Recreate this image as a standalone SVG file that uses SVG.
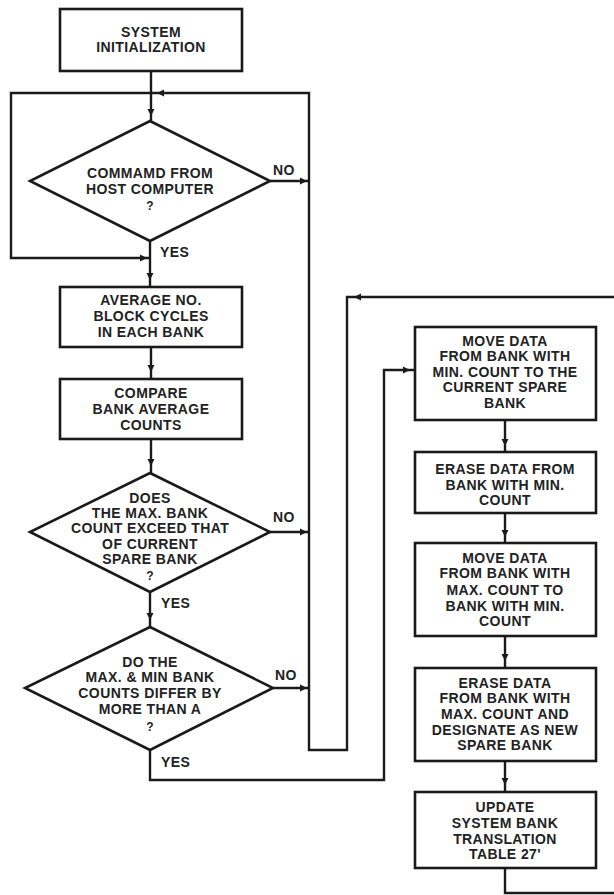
<svg xmlns="http://www.w3.org/2000/svg" xmlns:xlink="http://www.w3.org/1999/xlink" width="614" height="895" viewBox="0 0 614 895">
<style>
.box{fill:#fff;stroke:#1a1a1a;stroke-width:2.6}
.ln{fill:none;stroke:#1a1a1a;stroke-width:2.4}
text{font-family:"Liberation Sans",Arial,sans-serif;font-size:14px;font-weight:bold;fill:#222;text-anchor:middle;letter-spacing:0.4px}
text.lbl{text-anchor:start}
text.q{font-size:12px}
</style>
<defs>
<polygon id="arr" points="0,0 -7,-3.5 -7,3.5" fill="#1a1a1a"/>
</defs>
<rect width="614" height="895" fill="#fff"/>
<g id="connectors">
<path class="ln" d="M151 71 V121"/>
<use href="#arr" transform="translate(151,116) rotate(90)"/>
<path class="ln" d="M614 297 H347 V750 H309 V93 H11 V258 H150"/>
<use href="#arr" transform="translate(354,297) rotate(180)"/>
<use href="#arr" transform="translate(157,93) rotate(180)"/>
<use href="#arr" transform="translate(147,258)"/>
<path class="ln" d="M270 181 H309"/>
<use href="#arr" transform="translate(307,181)"/>
<path class="ln" d="M150 241 V287"/>
<use href="#arr" transform="translate(150,280) rotate(90)"/>
<path class="ln" d="M151 347 V379"/>
<use href="#arr" transform="translate(151,372) rotate(90)"/>
<path class="ln" d="M151 439 V473"/>
<use href="#arr" transform="translate(151,466) rotate(90)"/>
<path class="ln" d="M270 532 H309"/>
<use href="#arr" transform="translate(307,532)"/>
<path class="ln" d="M150 592 V627"/>
<use href="#arr" transform="translate(150,620) rotate(90)"/>
<path class="ln" d="M273 688 H309"/>
<use href="#arr" transform="translate(307,688)"/>
<path class="ln" d="M150 750 V780 H384 V370 H415"/>
<use href="#arr" transform="translate(410,370)"/>
<path class="ln" d="M505 420 V452"/>
<use href="#arr" transform="translate(505,446) rotate(90)"/>
<path class="ln" d="M505 513 V543"/>
<use href="#arr" transform="translate(505,537) rotate(90)"/>
<path class="ln" d="M505 636 V668"/>
<use href="#arr" transform="translate(505,661) rotate(90)"/>
<path class="ln" d="M505 761 V792"/>
<use href="#arr" transform="translate(505,785) rotate(90)"/>
<path class="ln" d="M505 868 V893 H614"/>
</g>
<g id="init">
<rect class="box" x="60" y="9" width="182" height="62"/>
<text x="151" y="37">SYSTEM</text>
<text x="151" y="52">INITIALIZATION</text>
</g>
<g id="d1">
<polygon class="box" points="150,121 270,181 150,241 30,181"/>
<text x="150" y="178">COMMAMD FROM</text>
<text x="150" y="194">HOST COMPUTER</text>
<text class="q" x="150" y="210">?</text>
<text class="lbl" x="273" y="175">NO</text>
<text class="lbl" x="160" y="257">YES</text>
</g>
<g id="avg">
<rect class="box" x="60" y="287" width="182" height="60"/>
<text x="151" y="305">AVERAGE NO.</text>
<text x="151" y="321">BLOCK CYCLES</text>
<text x="151" y="337">IN EACH BANK</text>
</g>
<g id="compare">
<rect class="box" x="60" y="379" width="182" height="60"/>
<text x="151" y="398">COMPARE</text>
<text x="151" y="414">BANK AVERAGE</text>
<text x="151" y="430">COUNTS</text>
</g>
<g id="d2">
<polygon class="box" points="150,473 270,532 150,592 30,532"/>
<text x="150" y="503">DOES</text>
<text x="150" y="518">THE MAX. BANK</text>
<text x="150" y="533">COUNT EXCEED THAT</text>
<text x="150" y="549">OF CURRENT</text>
<text x="150" y="564">SPARE BANK</text>
<text class="q" x="150" y="580">?</text>
<text class="lbl" x="273" y="522">NO</text>
<text class="lbl" x="161" y="608">YES</text>
</g>
<g id="d3">
<polygon class="box" points="150,627 273,688 150,750 25,688"/>
<text x="150" y="667">DO THE</text>
<text x="150" y="682">MAX. &amp; MIN BANK</text>
<text x="150" y="698">COUNTS  DIFFER BY</text>
<text x="150" y="714">MORE THAN  A</text>
<text class="q" x="150" y="731">?</text>
<text class="lbl" x="275" y="680">NO</text>
<text class="lbl" x="161" y="767">YES</text>
</g>
<g id="moveMin">
<rect class="box" x="415" y="327" width="181" height="93"/>
<text x="505" y="346">MOVE DATA</text>
<text x="505" y="361">FROM BANK WITH</text>
<text x="505" y="377">MIN. COUNT TO THE</text>
<text x="505" y="392">CURRENT SPARE</text>
<text x="505" y="408">BANK</text>
</g>
<g id="eraseMin">
<rect class="box" x="415" y="452" width="181" height="61"/>
<text x="505" y="474">ERASE DATA FROM</text>
<text x="505" y="490">BANK WITH MIN.</text>
<text x="505" y="505">COUNT</text>
</g>
<g id="moveMax">
<rect class="box" x="415" y="543" width="181" height="93"/>
<text x="505" y="563">MOVE DATA</text>
<text x="505" y="578">FROM BANK WITH</text>
<text x="505" y="595">MAX. COUNT TO</text>
<text x="505" y="611">BANK WITH MIN.</text>
<text x="505" y="626">COUNT</text>
</g>
<g id="eraseMax">
<rect class="box" x="415" y="668" width="181" height="93"/>
<text x="505" y="688">ERASE DATA</text>
<text x="505" y="703">FROM BANK WITH</text>
<text x="505" y="719">MAX. COUNT  AND</text>
<text x="505" y="735">DESIGNATE AS NEW</text>
<text x="505" y="750">SPARE BANK</text>
</g>
<g id="update">
<rect class="box" x="415" y="792" width="181" height="76"/>
<text x="505" y="812">UPDATE</text>
<text x="505" y="828">SYSTEM BANK</text>
<text x="505" y="844">TRANSLATION</text>
<text x="505" y="859">TABLE 27'</text>
</g>
</svg>
